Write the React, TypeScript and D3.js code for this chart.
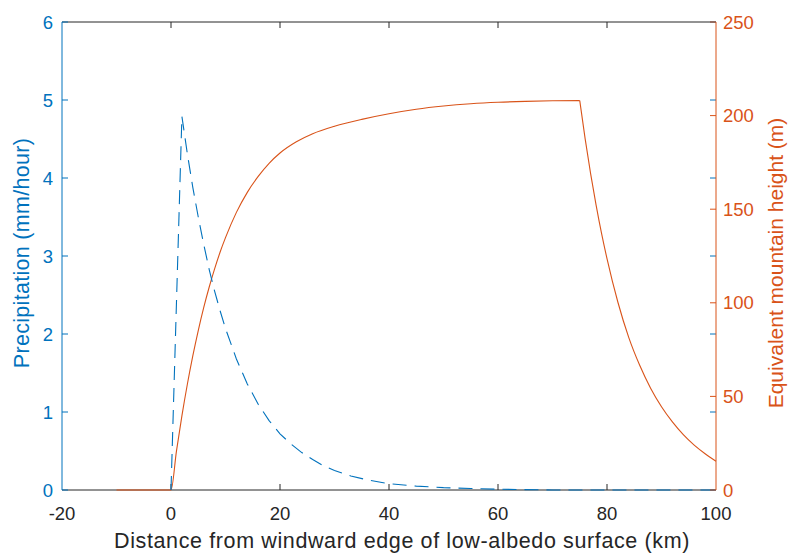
import React from "react";
import * as d3 from "d3";

// Precipitation (mm/hour), blue dashed, left axis
const precipX = [0, 2, 3, 4, 5, 6, 7, 8, 9, 10, 12, 14, 16, 18, 20, 22, 24, 26, 28, 30, 33, 36, 40, 45, 50, 55, 60, 70, 80, 90, 100];
const precipY = [0, 4.79, 4.31, 3.88, 3.5, 3.15, 2.83, 2.55, 2.3, 2.07, 1.68, 1.36, 1.1, 0.89, 0.72, 0.59, 0.48, 0.39, 0.31, 0.25, 0.18, 0.13, 0.08, 0.05, 0.03, 0.02, 0.01, 0.0, 0.0, 0.0, 0.0];

// Equivalent mountain height (m), orange solid, right axis
const heightX = [-10, 0, 1, 2, 3, 4, 5, 6, 7, 8, 9, 10, 12, 14, 16, 18, 20, 23, 26, 30, 35, 40, 45, 50, 55, 60, 65, 70, 75, 76, 77, 78, 79, 80, 82, 84, 86, 88, 90, 92, 94, 96, 98, 100];
const heightY = [0, 0, 20.8, 39.6, 56.5, 71.6, 85.2, 97.4, 108.3, 118.1, 127, 134.8, 148.3, 159, 167.5, 174.5, 180, 186, 190.3, 194.3, 198, 201, 203.4, 205.1, 206.3, 207.1, 207.6, 207.9, 208, 187.4, 168.9, 152.2, 137.1, 123.6, 100.3, 81.4, 66.6, 54.4, 44.5, 36.4, 29.6, 24, 19.4, 15.4];

const xTicks = [-20, 0, 20, 40, 60, 80, 100];
const leftTicks = [0, 1, 2, 3, 4, 5, 6];
const rightTicks = [0, 50, 100, 150, 200, 250];

const xTitle = "Distance from windward edge of low-albedo surface (km)";
const leftTitle = "Precipitation (mm/hour)";
const rightTitle = "Equivalent mountain height (m)";

const BLUE = "#0072BD";
const ORANGE = "#D95319";
const DARK = "#262626";
const FONT = "Liberation Sans, Arial, Helvetica, sans-serif";

export default function App() {
  const W = 794, H = 557;
  const L = 62, R = 716, T = 22, B = 490;
  const x = d3.scaleLinear().domain([-20, 100]).range([L, R]);
  const yL = d3.scaleLinear().domain([0, 6]).range([B, T]);
  const yR = d3.scaleLinear().domain([0, 250]).range([B, T]);
  const tk = 6;

  const precipLine = d3.line<number>().x((_, i) => x(precipX[i])).y((d) => yL(d))(precipY) || "";
  const peakIdx = heightY.indexOf(d3.max(heightY) as number);
  const hPts = heightX.map((v, i) => [v, heightY[i]] as [number, number]);
  const hGen = d3.line<[number, number]>().x((d) => x(d[0])).y((d) => yR(d[1])).curve(d3.curveMonotoneX);
  const heightRise = hGen(hPts.slice(0, peakIdx + 1)) || "";
  const heightFall = hGen(hPts.slice(peakIdx)) || "";

  return (
    <svg width={W} height={H} style={{ position: "absolute", left: 0, top: 0, background: "#fff" }} fontFamily={FONT}>
      <rect x={0} y={0} width={W} height={H} fill="#fff" />
      {/* frame top & bottom */}
      <line x1={L} x2={R} y1={T} y2={T} stroke={DARK} strokeWidth={1} />
      <line x1={L} x2={R} y1={B} y2={B} stroke={DARK} strokeWidth={1} />
      {/* x ticks */}
      {xTicks.map((t) => (
        <g key={"x" + t}>
          {t !== -20 && t !== 100 && (
            <>
              <line x1={x(t)} x2={x(t)} y1={B} y2={B - tk} stroke={DARK} />
              <line x1={x(t)} x2={x(t)} y1={T} y2={T + tk} stroke={DARK} />
            </>
          )}
          <text x={x(t)} y={519.5} textAnchor="middle" fontSize={18.5} fill={DARK}>{t}</text>
        </g>
      ))}
      <text x={(L + R) / 2 + 13} y={548} textAnchor="middle" fontSize={21.5} letterSpacing={0.62} fill={DARK}>{xTitle}</text>

      {/* data */}
      <path d={heightRise} fill="none" stroke={ORANGE} strokeWidth={1.1} />
      <path d={heightFall} fill="none" stroke={ORANGE} strokeWidth={1.1} />
      <path d={precipLine} fill="none" stroke={BLUE} strokeWidth={1.1} strokeDasharray="14,8" />

      {/* left axis */}
      <line x1={L} x2={L} y1={T} y2={B} stroke={BLUE} strokeWidth={1} />
      {leftTicks.map((t) => (
        <g key={"l" + t}>
          <line x1={L} x2={L + tk} y1={yL(t)} y2={yL(t)} stroke={BLUE} />
          <line x1={R} x2={R - tk} y1={yL(t)} y2={yL(t)} stroke={BLUE} />
          <text x={L - 9} y={yL(t) + 6.5} textAnchor="end" fontSize={18.5} fill={BLUE}>{t}</text>
        </g>
      ))}
      <text transform={`translate(29,${253}) rotate(-90)`} textAnchor="middle" fontSize={21.5} letterSpacing={0.3} fill={BLUE}>{leftTitle}</text>

      {/* right axis */}
      <line x1={R} x2={R} y1={T} y2={B} stroke={ORANGE} strokeWidth={1} />
      {rightTicks.map((t) => (
        <g key={"r" + t}>
          <line x1={R} x2={R - tk} y1={yR(t)} y2={yR(t)} stroke={ORANGE} />
          <text x={R + 7} y={yR(t) + 6.5} textAnchor="start" fontSize={18.5} fill={ORANGE}>{t}</text>
        </g>
      ))}
      <text transform={`translate(783,${263}) rotate(-90)`} textAnchor="middle" fontSize={21} fill={ORANGE}>{rightTitle}</text>
    </svg>
  );
}
